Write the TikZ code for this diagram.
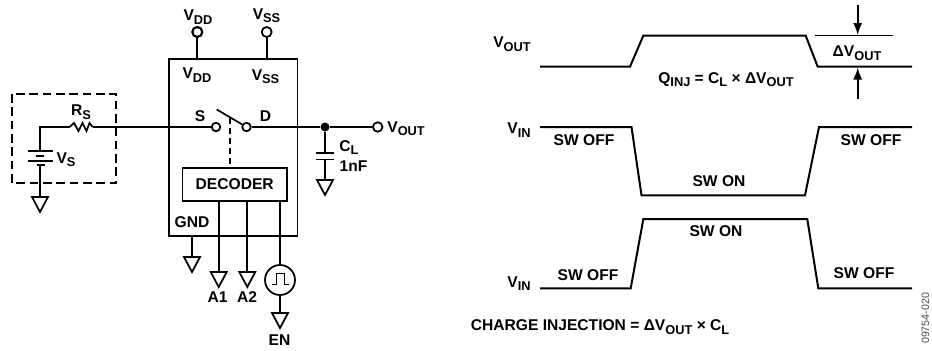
\documentclass[tikz,border=0pt]{standalone}
\usepackage{fontspec}
\setmainfont{Liberation Sans}[BoldFont={Liberation Sans Bold}]
\usetikzlibrary{arrows.meta}
\tikzset{lbl/.style={font=\fontsize{11.7}{13}\bfseries\selectfont,inner sep=0pt},
  term/.style={circle,draw,fill=white,inner sep=0pt,minimum size=#1},
  wave/.style={line width=1.5pt},
  tinytxt/.style={font=\fontsize{8}{9}\selectfont,inner sep=0pt,text=black!70}}
\newcommand{\lo}[1]{\raisebox{-2.6pt}{\fontsize{9.6}{11}\bfseries\selectfont #1}}
\newcommand{\gnd}[1]{\draw (#1) ++(-8,0) -- ++(16,0) -- ++(-8,15) -- cycle;}

\begin{document}
\begin{tikzpicture}[x=0.75pt,y=0.75pt,yscale=-1,xscale=1,line width=1.3pt]
\useasboundingbox (0,0) rectangle (932,350);

% Source box
\draw [dashed,dash pattern=on 6.5pt off 3.5pt] (12,94) rectangle (116,183);
\coordinate (srccorner) at (40,127);
\coordinate (rsleft) at (69.5,127);
\coordinate (rsright) at (92.7,127);
\coordinate (battop) at (40,151);
\coordinate (batbot) at (40,165);
\coordinate (gndvs) at (40,197);
\draw (battop) -- (srccorner) -- (rsleft) -- ++(4.5,-4) -- ++(4.5,8) -- ++(4,-8) -- ++(4,8) -- ++(3,-8) -- (rsright);
\draw (28,151) -- (53,151);
\draw (36,155.7) -- (44,155.7);
\draw (28,161) -- (53,161);
\draw (36.5,165) -- (44.5,165);
\draw (batbot) -- (gndvs);
\gnd{gndvs}

% Chip
\node [draw,minimum width=128.5*0.75pt,minimum height=176.7*0.75pt,inner sep=0pt] (chip) at (233.2,147.4) {};
\node [draw,lbl,minimum width=104.5*0.75pt,minimum height=33*0.75pt,inner sep=0pt] (decoder) at (234.7,184.5) {DECODER};
\node [term=10*0.75pt,line width=1.6pt] (vdd) at (197.3,32) {};
\node [term=10*0.75pt] (vss) at (266.7,32) {};
\draw (vdd) -- (vdd |- chip.north);
\draw (vss) -- (vss |- chip.north);
\node [term=8.5*0.75pt] (swS) at (216,127) {};
\node [term=8.5*0.75pt] (swD) at (246.5,127) {};
\draw (rsright) -- (swS);
\coordinate (bladetip) at (216.7,109.5);
\draw (bladetip) -- (swD);
\coordinate (ctrl) at (230,118);
\draw [dashed,dash pattern=on 4.5pt off 3pt] (ctrl) -- (ctrl |- decoder.north);

% Output
\node [circle,fill=black,inner sep=0pt,minimum size=9*0.75pt] (junc) at (325,127) {};
\node [term=9.5*0.75pt] (vout) at (377.7,127) {};
\draw (swD) -- (junc) -- (vout);
\coordinate (captop) at (325,153);
\coordinate (capbot) at (325,160);
\coordinate (gndcl) at (325,180);
\draw (junc) -- (captop);
\draw (316,153) -- (334,153);
\draw (316,159.5) -- (334,159.5);
\draw (capbot) -- (gndcl);
\gnd{gndcl}

% Decoder pins
\coordinate (gndchip) at (192,257);
\coordinate (gnda) at (218.7,272);
\coordinate (gndb) at (247.3,272);
\coordinate (gnden) at (280,313);
\draw (gndchip |- chip.south) -- (gndchip);
\gnd{gndchip}
\draw (gnda |- decoder.south) -- (gnda);
\gnd{gnda}
\draw (gndb |- decoder.south) -- (gndb);
\gnd{gndb}
\node [term=30*0.75pt] (pulse) at (280,280) {};
\draw (pulse |- decoder.south) -- (pulse);
\draw (pulse) -- (gnden);
\gnd{gnden}
\draw (272,284.5) -- (276.5,284.5) -- (276.5,273.5) -- (284.5,273.5) -- (284.5,284.5) -- (289,284.5);

% Text Node
\node [lbl] (lvddtop) at (198,17) {V\lo{DD}};
\node [lbl] (lvsstop) at (266.5,15.5) {V\lo{SS}};
\node [lbl] (lvddin) at (197,75) {V\lo{DD}};
\node [lbl] (lvssin) at (265.5,76.5) {V\lo{SS}};
\node [lbl] (lrs) at (81,112) {R\lo{S}};
\node [lbl] (lvs) at (66,159.5) {V\lo{S}};
\node [lbl] (ls) at (200,116.5) {S};
\node [lbl] (ld) at (265.5,116.5) {D};
\node [lbl,anchor=west] (lvout) at (386.5,128.5) {V\lo{OUT}};
\node [lbl] (lcl) at (349,147.5) {C\lo{L}};
\node [lbl] (lnf) at (353.5,166.5) {1nF};
\node [lbl] (lgnd) at (192,222.5) {GND};
\node [lbl] (la) at (217.5,297) {A1};
\node [lbl] (lb) at (247,297) {A2};
\node [lbl] (len) at (279.5,340) {EN};

% Waveforms
\coordinate (outa) at (540,66.7);
\coordinate (outb) at (630,66.7);
\coordinate (outc) at (643.3,35.7);
\coordinate (outd) at (805.7,35.7);
\coordinate (oute) at (817.7,66.7);
\coordinate (outf) at (912,66.7);
\draw [wave] (outa) -- (outb) -- (outc) -- (outd) -- (oute) -- (outf);
\coordinate (dvl) at (814.5,35.7);
\coordinate (dvr) at (893,35.7);
\draw [line width=0.8pt] (dvl) -- (dvr);
\coordinate (arrtop) at (857.7,5);
\coordinate (arrhi) at (857.7,35);
\coordinate (arrbot) at (857.7,99);
\coordinate (arrlo) at (857.7,67.5);
\draw [-{Latex[length=12*0.75pt,width=9*0.75pt]}] (arrtop) -- (arrhi);
\draw [-{Latex[length=12*0.75pt,width=9*0.75pt]}] (arrbot) -- (arrlo);

\coordinate (ina) at (540,127);
\coordinate (inb) at (631.5,127);
\coordinate (inc) at (641.5,195.3);
\coordinate (ind) at (805,195.3);
\coordinate (ine) at (819,127);
\coordinate (inf) at (912,127);
\draw [wave] (ina) -- (inb) -- (inc) -- (ind) -- (ine) -- (inf);

\coordinate (ena) at (540,288.3);
\coordinate (enb) at (630.7,288.3);
\coordinate (enc) at (643.3,219.2);
\coordinate (enu) at (807.3,219.2);
\coordinate (ene) at (818.3,288.3);
\coordinate (enf) at (912,288.3);
\draw [wave] (ena) -- (enb) -- (enc) -- (enu) -- (ene) -- (enf);

% Text Node
\node [lbl] (lvouta) at (512,44) {V\lo{OUT}};
\node [lbl] (ldv) at (857,53) {ΔV\lo{OUT}};
\node [lbl] (lq) at (726,79.5) {Q\lo{INJ} = C\lo{L} × ΔV\lo{OUT}};
\node [lbl] (lvinb) at (519,130) {V\lo{IN}};
\node [lbl] (loffa) at (584,140) {SW OFF};
\node [lbl] (loffb) at (871,140) {SW OFF};
\node [lbl] (lona) at (719,181) {SW ON};
\node [lbl] (lonb) at (716,231.5) {SW ON};
\node [lbl] (loffc) at (588,275.5) {SW OFF};
\node [lbl] (loffd) at (864,273.5) {SW OFF};
\node [lbl] (lvinc) at (519,283.5) {V\lo{IN}};
\node [lbl,anchor=west] (lcharge) at (470,327) {CHARGE INJECTION = ΔV\lo{OUT} × C\lo{L}};
\node [tinytxt,rotate=90,anchor=east] (lcode) at (925.5,292) {09754-020};
\end{tikzpicture}
\end{document}
